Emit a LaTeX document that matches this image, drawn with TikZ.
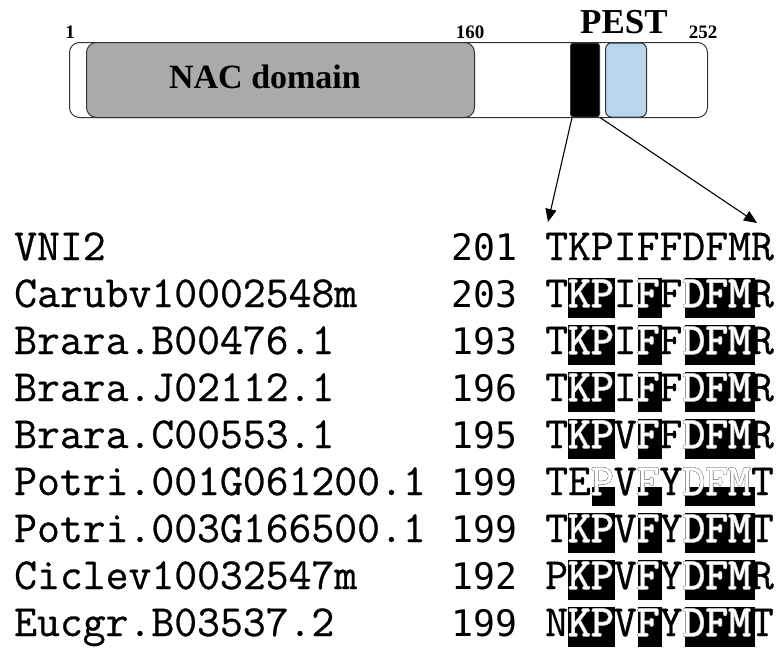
\documentclass[tikz,border=0pt]{standalone}
\usepackage{fontspec}
\usepackage[copies]{contour}
\usetikzlibrary{arrows.meta}
\setmainfont{Liberation Serif}
\newfontfamily\seqfont[FakeBold=0.6]{Latin Modern Mono}
\newfontfamily\numfont{DejaVu Sans Mono}
\contourlength{0.35pt}
\newcommand\hl[1]{\contour{black!45}{\textcolor{white}{#1}}}
\definecolor{nacgray}{HTML}{AAAAAA}
\definecolor{pestblue}{HTML}{B9D7EC}
\tikzset{
  dom/.style={draw=black!80, line width=1pt, anchor=north west, inner sep=0pt},
  toplab/.style={font=\bfseries\fontsize{19}{20}\selectfont, inner sep=0pt},
  namelab/.style={font=\seqfont\fontsize{44.4}{46}\selectfont, anchor=base west, inner sep=0pt},
  numlab/.style={font=\numfont\fontsize{36.5}{40}\selectfont, anchor=base west, inner sep=0pt},
  seqlab/.style={font=\seqfont\fontsize{44.4}{46}\selectfont, anchor=base west, inner sep=0pt},
  arr/.style={line width=1.1pt, -{Triangle[length=13pt,width=11pt]}}
}
\begin{document}
\begin{tikzpicture}[x=1pt,y=-1pt]
\useasboundingbox (0,0) rectangle (784,648);
% protein bar
\node[dom, rounded corners=10pt, minimum width=638pt, minimum height=75pt] (bar) at (69,42) {};
\node[dom, fill=nacgray, rounded corners=10pt, minimum width=388pt, minimum height=75pt] (nac) at (86,42) {};
\node[dom, fill=black, rounded corners=3pt, minimum width=29pt, minimum height=74pt] (mot) at (570,42.5) {};
\node[dom, fill=pestblue, rounded corners=6pt, minimum width=41pt, minimum height=74pt] (pest) at (605,42.5) {};
\node[font=\bfseries\fontsize{34}{36}\selectfont, inner sep=0pt] (nactxt) at (265,77) {NAC domain};
\node[toplab] (l1) at (70,32) {1};
\node[toplab] (l160) at (470,32) {160};
\node[toplab] (l252) at (703,32) {252};
\node[font=\bfseries\fontsize{35}{36}\selectfont, inner sep=0pt] (pesttxt) at (624,22) {PEST};
% arrows
\coordinate (a1) at (548,222);
\coordinate (a2) at (757,223);
\draw[arr] (mot.south west) ++(2,0) coordinate (s1) -- (a1);
\draw[arr] (mot.south east) -- (a2);
% highlight boxes
\foreach \r/\a/\b in {1/2/3,1/5/5,1/7/9, 2/2/3,2/5/5,2/7/9, 3/2/3,3/5/5,3/7/9,
  4/2/3,4/5/5,4/7/9, 6/2/3,6/5/5,6/7/9, 7/2/3,7/5/5,7/7/9, 8/2/3,8/5/5,8/7/9}{
  \pgfmathsetmacro\yb{260+47*\r}
  \fill (545+23.3*\a-23.3, \yb-29) rectangle (545+23.3*\b, \yb+11);
}
\foreach \a/\b in {3/3,5/5,7/9}{
  \pgfmathsetmacro\yb{260+47*5}
  \fill (545+23.3*\a-23.3, \yb-8) rectangle (545+23.3*\b, \yb+11);
}
% rows
\foreach \r/\nm/\nu/\sq in {
  0/VNI2/201/TKPIFFDFMR,
  1/Carubv10002548m/203/T\hl{KP}I\hl{F}F\hl{DFM}R,
  2/Brara.B00476.1/193/T\hl{KP}I\hl{F}F\hl{DFM}R,
  3/Brara.J02112.1/196/T\hl{KP}I\hl{F}F\hl{DFM}R,
  4/Brara.C00553.1/195/T\hl{KP}V\hl{F}F\hl{DFM}R,
  5/Potri.001G061200.1/199/TE\hl{P}V\hl{F}Y\hl{DFM}T,
  6/Potri.003G166500.1/199/T\hl{KP}V\hl{F}Y\hl{DFM}T,
  7/Ciclev10032547m/192/P\hl{KP}V\hl{F}Y\hl{DFM}R,
  8/Eucgr.B03537.2/199/N\hl{KP}V\hl{F}Y\hl{DFM}T}{
  \pgfmathsetmacro\yb{260+47*\r}
  \node[namelab] (name\r) at (14,\yb) {\nm};
  \node[numlab] (num\r) at (451,\yb) {\nu};
  \node[seqlab] (seq\r) at (545,\yb) {\sq};
}
\end{tikzpicture}
\end{document}
